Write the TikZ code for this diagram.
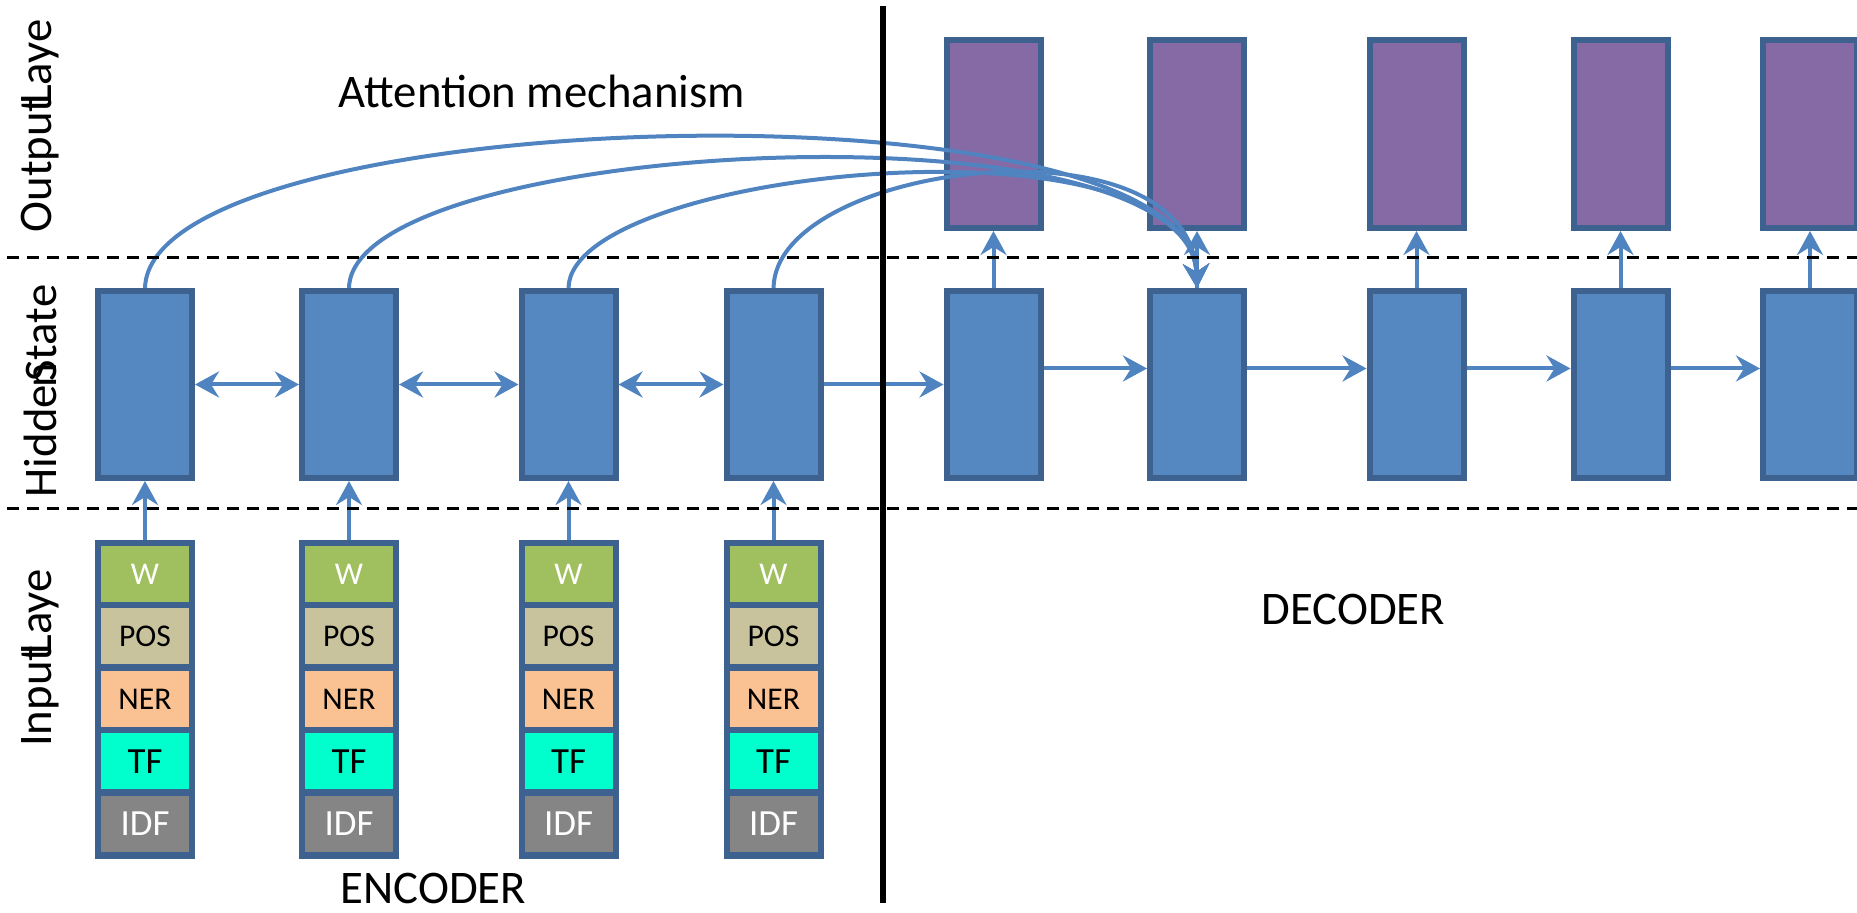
\documentclass[tikz,border=0pt]{standalone}
\usepackage{fontspec}
\setmainfont{Carlito}
\usetikzlibrary{positioning, arrows.meta}
\definecolor{hidblue}{HTML}{5588C0}
\definecolor{boxline}{HTML}{3E6290}
\definecolor{outpurple}{HTML}{866AA6}
\definecolor{arrowblue}{HTML}{4F84C0}
\definecolor{cW}{HTML}{A0C05F}
\definecolor{cPOS}{HTML}{C8C39D}
\definecolor{cNER}{HTML}{FAC192}
\definecolor{cTF}{HTML}{00FFCC}
\definecolor{cIDF}{HTML}{858585}

\begin{document}
\begin{tikzpicture}[node distance=1cm and 1cm, >={Stealth[length=0.24cm, width=0.26cm, inset=0.08cm]},
        hid/.style={draw=boxline, fill=hidblue, line width=0.06cm, minimum width=0.94cm, minimum height=1.87cm, inner sep=0},
        outp/.style={hid, fill=outpurple, minimum height=1.88cm},
        stack/.style={fill=boxline, minimum width=1.0cm, minimum height=3.19cm, inner sep=0, outer sep=0},
        cell/.style={minimum width=0.88cm, minimum height=0.56cm, inner sep=0, outer sep=0, font=\fontsize{9}{9}\selectfont},
        arr/.style={->, arrowblue, line width=0.04cm},
        layer/.style={dash pattern=on 0.12cm off 0.08cm, line width=0.03cm},
        big/.style={font=\fontsize{13.3}{16}\selectfont, inner sep=0}]
    \useasboundingbox (0,0) rectangle (18.57,9.13);

    % hidden states
    \node[hid] at (1.45,5.285) (h1) {};
    \node[hid, right=1.04 of h1] (h2) {};
    \node[hid, right=1.195 of h2] (h3) {};
    \node[hid, right=1.05 of h3] (h4) {};
    \node[hid, right=1.20 of h4] (d1) {};
    \node[hid, right=1.035 of d1] (d2) {};
    \node[hid, right=1.195 of d2] (d3) {};
    \node[hid, right=1.04 of d3] (d4) {};
    \node[hid, right=0.895 of d4] (d5) {};

    % output layer
    \foreach \i in {1,...,5}
        \node[outp, above=0.57 of d\i] (o\i) {};

    % input features
    \foreach \i in {1,...,4} {
        \node[stack, below=0.59 of h\i] (s\i) {};
        \node[cell, fill=cW, text=white, below=0.06 of s\i.north] (w\i) {W};
        \node[cell, fill=cPOS, below=0.065 of w\i] (p\i) {POS};
        \node[cell, fill=cNER, below=0.065 of p\i] (n\i) {NER};
        \node[cell, fill=cTF, font=\fontsize{10.5}{10.5}\selectfont, below=0.065 of n\i] (t\i) {TF};
        \node[cell, fill=cIDF, text=white, font=\fontsize{10.5}{10.5}\selectfont, below=0.065 of t\i] (f\i) {IDF};
        \draw[arr] (s\i) -- (h\i);
    }

    \draw[arr, <->] (h1) -- (h2);
    \draw[arr, <->] (h2) -- (h3);
    \draw[arr, <->] (h3) -- (h4);
    \draw[arr] (h4) -- (d1);
    \draw[arr] ([yshift=0.16cm]d1.east) -- ([yshift=0.16cm]d2.west);
    \draw[arr] ([yshift=0.16cm]d2.east) -- ([yshift=0.16cm]d3.west);
    \draw[arr] ([yshift=0.16cm]d3.east) -- ([yshift=0.16cm]d4.west);
    \draw[arr] ([yshift=0.16cm]d4.east) -- ([yshift=0.16cm]d5.west);
    \foreach \i in {1,...,5}
        \draw[arr] (d\i) -- (o\i);

    % attention
    \draw[arr] (h1.north) .. controls +(0.05,1.85) and +(-0.07,2.15) .. (d2.north);
    \draw[arr] (h2.north) .. controls +(0.03,1.50) and +(-0.07,1.92) .. (d2.north);
    \draw[arr] (h3.north) .. controls +(0.02,1.20) and +(-0.07,1.80) .. (d2.north);
    \draw[arr] (h4.north) .. controls +(0.02,1.26) and +(-0.07,1.76) .. (d2.north);

    \draw[layer] (0.07,6.55) -- (18.57,6.55);
    \draw[layer] (0.07,4.04) -- (18.57,4.04);
    \draw[line width=0.065cm] (8.83,0.10) -- (8.83,9.07);

    \node[big, anchor=base west] at (3.38,8.05) (attn) {Attention mechanism};
    \node[big, anchor=base west] at (3.40,0.09) (enc) {ENCODER};
    \node[big, anchor=base west] at (12.61,2.88) (dec) {DECODER};
    \node[big, rotate=90] at (0.40,7.87) (lout) {Output\kern-0.18emLaye};
    \node[big, rotate=90] at (0.40,5.22) (lhid) {Hidde\kern-0.05emn\kern-0.4emState};
    \node[big, rotate=90] at (0.40,2.55) (lin) {Input\kern-0.18emLaye};
\end{tikzpicture}
\end{document}
